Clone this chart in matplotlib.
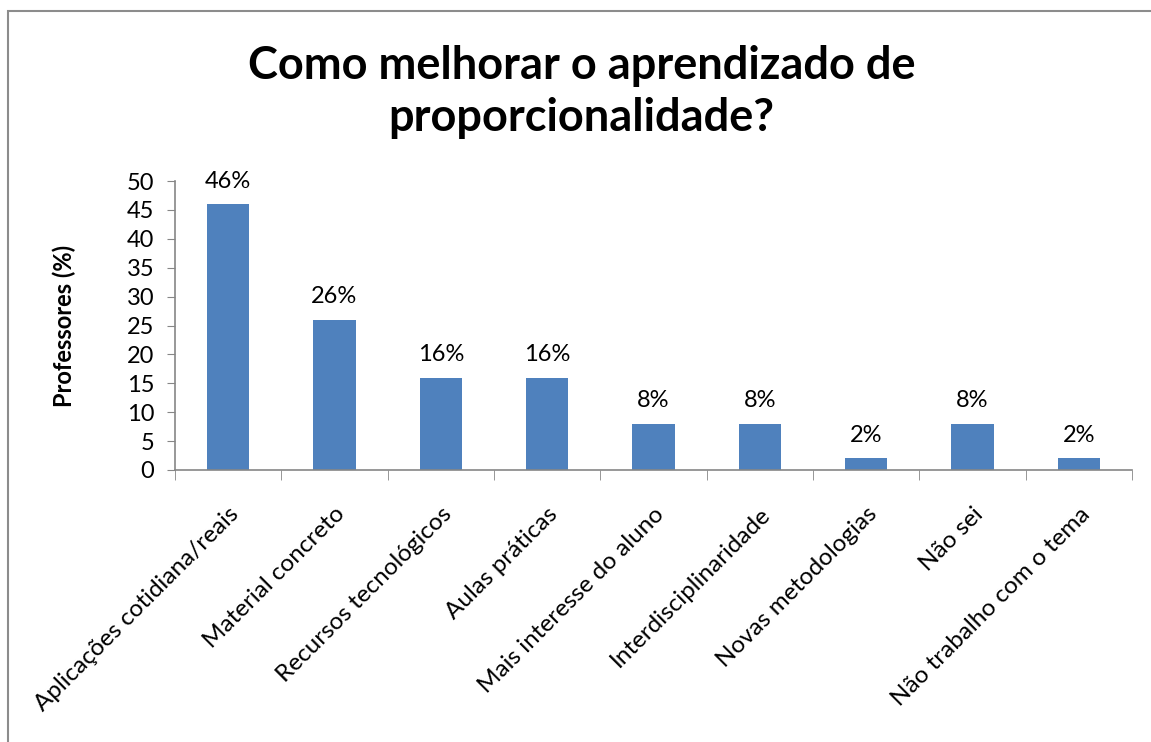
import matplotlib.pyplot as plt
from matplotlib.patches import Rectangle
import numpy as np

categorias = ['Aplicações cotidiana/reais', 'Material concreto', 'Recursos tecnológicos',
              'Aulas práticas', 'Mais interesse do aluno', 'Interdisciplinaridade',
              'Novas metodologias', 'Não sei', 'Não trabalho com o tema']
valores = [46, 26, 16, 16, 8, 8, 2, 8, 2]
rotulos = ['46%', '26%', '16%', '16%', '8%', '8%', '2%', '8%', '2%']
y_ticks = [0, 5, 10, 15, 20, 25, 30, 35, 40, 45, 50]

plt.rcParams['font.family'] = ['Lato', 'DejaVu Sans']

fig = plt.figure(figsize=(11.51, 7.42), dpi=100)
ax = fig.add_axes([0.152, 0.3666, 0.8315, 0.3894])

# moldura cinza (só topo e esquerda visíveis)
fig.patches.append(Rectangle((8 / 1151, -0.1), 1.2, 1 - 11 / 742 + 0.1,
                             transform=fig.transFigure, fill=False,
                             edgecolor='#8c8c8c', linewidth=1.5))

x = np.arange(len(categorias))
ax.bar(x, valores, width=0.4, color='#4F81BD')

for xi, v, r in zip(x, valores, rotulos):
    ax.annotate(r, (xi, v), xytext=(0, 9), textcoords='offset points',
                ha='center', va='bottom', fontsize=17)

ax.set_xlim(-0.5, len(categorias) - 0.5)
ax.set_ylim(0, 50)
ax.set_yticks(y_ticks)
ax.tick_params(axis='y', labelsize=17, length=6, color='#868686', pad=9)

ax.set_xticks(x)
ax.set_xticklabels(categorias, rotation=45, ha='right', rotation_mode='anchor', fontsize=17.5)
ax.set_xticks(np.arange(-0.5, len(categorias)), minor=True)
ax.tick_params(axis='x', which='major', length=0, pad=24)
ax.tick_params(axis='x', which='minor', length=7, color='#868686')

for s in ['top', 'right']:
    ax.spines[s].set_visible(False)
for s in ['left', 'bottom']:
    ax.spines[s].set_color('#868686')
    ax.spines[s].set_linewidth(1.2)

ax.set_ylabel('Professores (%)', fontsize=17, fontweight='bold', labelpad=36)

fig.text(0.505, 0.876, 'Como melhorar o aprendizado de\nproporcionalidade?',
         ha='center', va='center', fontsize=32.5, fontweight='bold', linespacing=1.3)

fig.savefig('out.png', dpi=100)
